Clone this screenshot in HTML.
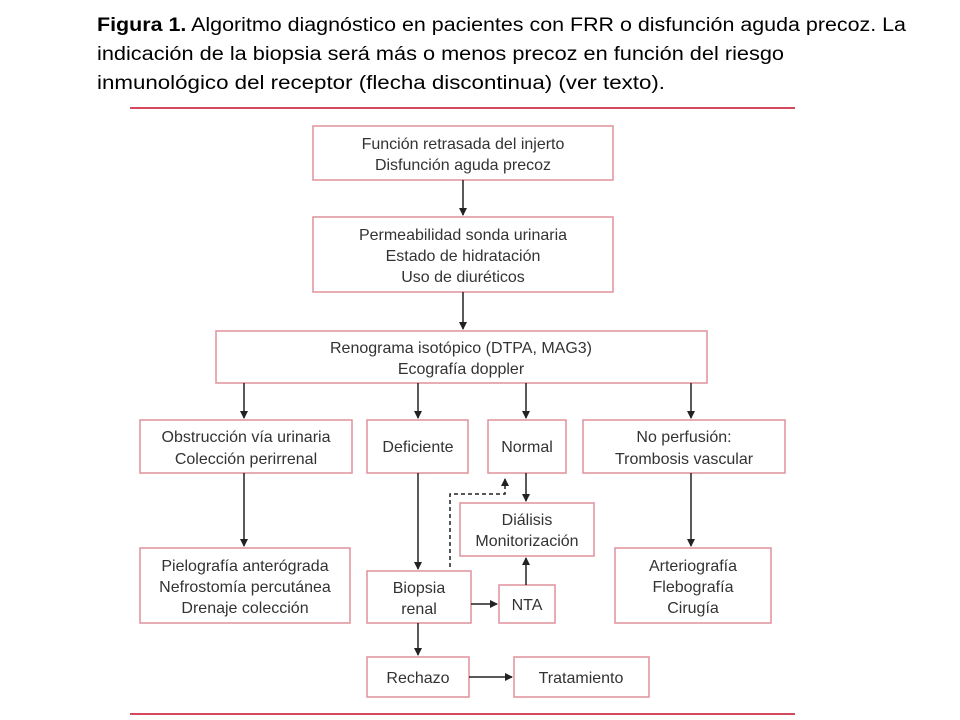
<!DOCTYPE html>
<html><head><meta charset="utf-8"><style>html,body{margin:0;padding:0;background:#fff}svg{display:block}</style></head>
<body>
<svg width="960" height="720" viewBox="0 0 960 720" xmlns="http://www.w3.org/2000/svg">
<defs><marker id="a" markerWidth="8" markerHeight="8" refX="7" refY="4" orient="auto" markerUnits="userSpaceOnUse"><path d="M0,0 L8,4 L0,8 z" fill="#222"/></marker></defs>
<g font-family="Liberation Sans, sans-serif" font-size="19" fill="#000">
<text x="97" y="31" textLength="809" lengthAdjust="spacingAndGlyphs"><tspan font-weight="bold">Figura 1.</tspan> Algoritmo diagnóstico en pacientes con FRR o disfunción aguda precoz. La</text>
<text x="97" y="60" textLength="687" lengthAdjust="spacingAndGlyphs">indicación de la biopsia será más o menos precoz en función del riesgo</text>
<text x="97" y="89" textLength="568" lengthAdjust="spacingAndGlyphs">inmunológico del receptor (flecha discontinua) (ver texto).</text>
</g>
<line x1="130" y1="108" x2="795" y2="108" stroke="#d4495e" stroke-width="2"/>
<line x1="130" y1="714" x2="795" y2="714" stroke="#d4495e" stroke-width="2"/>
<g fill="none" stroke="#e0909c" stroke-width="1.5">
<rect x="313" y="126" width="300" height="54"/>
<rect x="313" y="217" width="300" height="75"/>
<rect x="216" y="331" width="491" height="52"/>
<rect x="140" y="420" width="212" height="53"/>
<rect x="367" y="420" width="101" height="53"/>
<rect x="488" y="420" width="78" height="53"/>
<rect x="583" y="420" width="202" height="53"/>
<rect x="460" y="503" width="134" height="53"/>
<rect x="367" y="571" width="104" height="52"/>
<rect x="499" y="585" width="56" height="38"/>
<rect x="140" y="548" width="210" height="75"/>
<rect x="615" y="548" width="156" height="75"/>
<rect x="367" y="657" width="102" height="40"/>
<rect x="514" y="657" width="135" height="40"/>
</g>
<g stroke="#222" stroke-width="1.5" fill="none" marker-end="url(#a)">
<line x1="463" y1="180" x2="463" y2="215"/>
<line x1="463" y1="292" x2="463" y2="329"/>
<line x1="244" y1="383" x2="244" y2="418"/>
<line x1="418" y1="383" x2="418" y2="418"/>
<line x1="526" y1="383" x2="526" y2="418"/>
<line x1="691" y1="383" x2="691" y2="418"/>
<line x1="244" y1="473" x2="244" y2="546"/>
<line x1="418" y1="473" x2="418" y2="569"/>
<line x1="526" y1="473" x2="526" y2="501"/>
<line x1="691" y1="473" x2="691" y2="546"/>
<line x1="526" y1="585" x2="526" y2="558"/>
<line x1="471" y1="604" x2="497" y2="604"/>
<line x1="418" y1="623" x2="418" y2="655"/>
<line x1="469" y1="677" x2="512" y2="677"/>
<polyline points="450,567 450,494 505,494 505,479" stroke-dasharray="4,3"/>
</g>
<g font-family="Liberation Sans, sans-serif" font-size="16" fill="#333" text-anchor="middle">
<text x="463" y="149">Función retrasada del injerto</text>
<text x="463" y="170">Disfunción aguda precoz</text>
<text x="463" y="240">Permeabilidad sonda urinaria</text>
<text x="463" y="261">Estado de hidratación</text>
<text x="463" y="282">Uso de diuréticos</text>
<text x="461" y="353">Renograma isotópico (DTPA, MAG3)</text>
<text x="461" y="374">Ecografía doppler</text>
<text x="246" y="442">Obstrucción vía urinaria</text>
<text x="246" y="464">Colección perirrenal</text>
<text x="418" y="452">Deficiente</text>
<text x="527" y="452">Normal</text>
<text x="684" y="442">No perfusión:</text>
<text x="684" y="464">Trombosis vascular</text>
<text x="527" y="525">Diálisis</text>
<text x="527" y="546">Monitorización</text>
<text x="419" y="593">Biopsia</text>
<text x="419" y="614">renal</text>
<text x="527" y="610">NTA</text>
<text x="245" y="571">Pielografía anterógrada</text>
<text x="245" y="592">Nefrostomía percutánea</text>
<text x="245" y="613">Drenaje colección</text>
<text x="693" y="571">Arteriografía</text>
<text x="693" y="592">Flebografía</text>
<text x="693" y="613">Cirugía</text>
<text x="418" y="683">Rechazo</text>
<text x="581" y="683">Tratamiento</text>
</g>
</svg>
</body></html>
